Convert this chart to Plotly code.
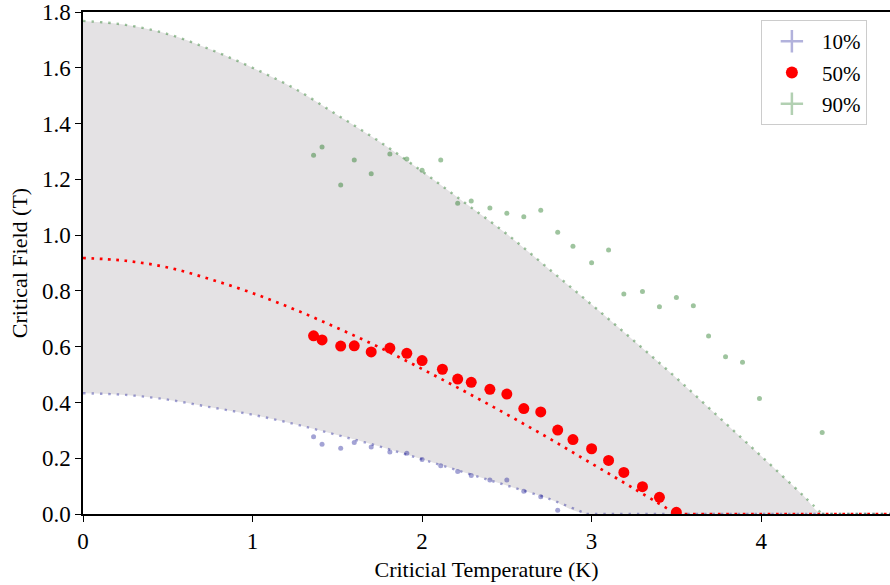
import plotly.graph_objects as go

# ---------------- data ----------------
# measured points (temperature in K, field in T)
T10 = [1.36, 1.41, 1.52, 1.60, 1.70, 1.81, 1.91, 2.00, 2.11, 2.21, 2.29, 2.40, 2.50, 2.60, 2.70, 2.80]
H10 = [0.277, 0.250, 0.236, 0.256, 0.240, 0.222, 0.218, 0.195, 0.173, 0.152, 0.138, 0.122, 0.122, 0.082, 0.062, 0.013]

T50 = [1.36, 1.41, 1.52, 1.60, 1.70, 1.81, 1.91, 2.00, 2.12, 2.21, 2.29, 2.40, 2.50, 2.60, 2.70, 2.80,
       2.89, 3.00, 3.10, 3.19, 3.30, 3.40, 3.50]
H50 = [0.639, 0.624, 0.602, 0.603, 0.581, 0.595, 0.576, 0.550, 0.519, 0.484, 0.472, 0.447, 0.430, 0.378,
       0.366, 0.301, 0.267, 0.234, 0.192, 0.149, 0.098, 0.060, 0.006]

T90 = [1.36, 1.41, 1.52, 1.60, 1.70, 1.81, 1.91, 2.00, 2.11, 2.21, 2.29, 2.40, 2.50, 2.60, 2.70, 2.80,
       2.89, 3.00, 3.10, 3.19, 3.30, 3.40, 3.50, 3.60, 3.69, 3.79, 3.89, 3.99, 4.36]
H90 = [1.286, 1.316, 1.180, 1.269, 1.220, 1.291, 1.273, 1.233, 1.269, 1.114, 1.122, 1.097, 1.078, 1.066,
       1.089, 1.010, 0.960, 0.901, 0.947, 0.789, 0.798, 0.743, 0.776, 0.747, 0.638, 0.564, 0.544, 0.414, 0.292]

# fitted curves
Tfit10 = [0, 0.25, 0.5, 0.75, 1.0, 1.25, 1.5, 1.75, 2.0, 2.25, 2.5, 2.75, 2.97, 4.76]
Hfit10 = [0.433, 0.427, 0.410, 0.383, 0.356, 0.322, 0.283, 0.242, 0.196, 0.149, 0.102, 0.054, 0.0, 0.0]

Tfit50 = [0, 0.25, 0.5, 0.75, 1.0, 1.25, 1.5, 1.75, 2.0, 2.25, 2.5, 2.75, 3.0, 3.25, 3.5, 4.76]
Hfit50 = [0.918, 0.908, 0.884, 0.842, 0.792, 0.733, 0.667, 0.597, 0.520, 0.440, 0.357, 0.271, 0.181, 0.091, 0.0, 0.0]

Tfit90 = [0, 0.25, 0.5, 0.75, 1.0, 1.25, 1.5, 1.75, 2.0, 2.25, 2.5, 2.75, 3.0, 3.25, 3.5, 3.75, 4.0, 4.25, 4.36, 4.76]
Hfit90 = [1.768, 1.754, 1.721, 1.666, 1.600, 1.525, 1.431, 1.335, 1.229, 1.117, 1.004, 0.878, 0.751, 0.621,
          0.488, 0.348, 0.208, 0.065, 0.0, 0.0]

labels = ["10%", "50%", "90%"]
x_ticks = [0, 1, 2, 3, 4]
y_ticks = [0.0, 0.2, 0.4, 0.6, 0.8, 1.0, 1.2, 1.4, 1.6, 1.8]

# ---------------- styles ----------------
BLUE = "rgba(0,0,139,0.36)"
GREEN = "rgba(0,100,0,0.38)"
RED = "#ff0000"
FILL = "rgb(228,226,228)"
FONT = "Liberation Serif"


def split_fit(T, H):
    """curved part up to the first zero, then the flat tail"""
    k = H.index(0.0)
    return (T[:k + 1], H[:k + 1]), (T[k:], H[k:])


fig = go.Figure()

# shaded band between 10% and 90% fits
fig.add_trace(go.Scatter(x=Tfit10, y=Hfit10, mode="lines", line=dict(width=0, shape="spline", color="rgba(0,0,0,0)"),
                         showlegend=False, hoverinfo="skip"))
fig.add_trace(go.Scatter(x=Tfit90, y=Hfit90, mode="lines", fill="tonexty", fillcolor=FILL,
                         line=dict(width=0, shape="spline", color="rgba(0,0,0,0)"),
                         showlegend=False, hoverinfo="skip"))


def add_fit(T, H, color, width, dash):
    (tc, hc), (tt, ht) = split_fit(T, H)
    fig.add_trace(go.Scatter(x=tc, y=hc, mode="lines", line=dict(color=color, width=width, dash=dash, shape="spline"),
                             showlegend=False, hoverinfo="skip"))
    fig.add_trace(go.Scatter(x=tt, y=ht, mode="lines", line=dict(color=color, width=width, dash=dash),
                             showlegend=False, hoverinfo="skip"))


add_fit(Tfit10, Hfit10, BLUE, 2.4, "2.4px,6px")
add_fit(Tfit90, Hfit90, GREEN, 2.4, "2.4px,6px")

# small data points
fig.add_trace(go.Scatter(x=T10, y=H10, mode="markers", marker=dict(color=BLUE, size=5),
                         showlegend=False))
fig.add_trace(go.Scatter(x=T90, y=H90, mode="markers", marker=dict(color=GREEN, size=5),
                         showlegend=False))

# 50% fit and points
add_fit(Tfit50, Hfit50, RED, 2.7, "2.7px,5.6px")
fig.add_trace(go.Scatter(x=T50, y=H50, mode="markers", marker=dict(color=RED, size=11),
                         showlegend=False))

# legend entries (errorbar-like crosses)
fig.add_trace(go.Scatter(x=[None], y=[None], mode="markers", name=labels[0], legendgroup="a",
                         marker=dict(symbol="cross-thin", size=17, line=dict(color="rgba(0,0,139,0.3)", width=2.5))))
fig.add_trace(go.Scatter(x=[None], y=[None], mode="markers", name=labels[1], legendgroup="b",
                         marker=dict(symbol="circle", size=12, color=RED)))
fig.add_trace(go.Scatter(x=[None], y=[None], mode="markers", name=labels[2], legendgroup="c",
                         marker=dict(symbol="cross-thin", size=17, line=dict(color="rgba(0,100,0,0.3)", width=2.5))))

fig.update_layout(
    width=890, height=585,
    margin=dict(l=83, r=0, t=12, b=71),
    paper_bgcolor="white", plot_bgcolor="white",
    font=dict(family=FONT, size=21, color="black"),
    legend=dict(x=0.84, y=0.984, xanchor="left", yanchor="top",
                bgcolor="rgba(255,255,255,0.8)", bordercolor="#cccccc", borderwidth=1,
                traceorder="grouped", tracegroupgap=1, itemwidth=50,
                font=dict(family=FONT, size=21)),
    xaxis=dict(range=[0, 4.76], tickvals=x_ticks, ticktext=[str(v) for v in x_ticks],
               showgrid=False, zeroline=False, showline=True, linecolor="black", linewidth=1.5,
               mirror=True, ticks="outside", ticklen=6, tickwidth=1.2, tickcolor="black",
               tickfont=dict(size=23),
               title=dict(text="Criticial Temperature (K)", standoff=8, font=dict(size=22))),
    yaxis=dict(range=[0, 1.8], tickvals=y_ticks, ticktext=[f"{v:.1f}" for v in y_ticks],
               showgrid=False, zeroline=False, showline=True, linecolor="black", linewidth=1.5,
               ticks="outside", ticklen=6, tickwidth=1.2, tickcolor="black",
               tickfont=dict(size=23),
               title=dict(text="Critical Field (T)", standoff=8, font=dict(size=22))),
)

fig.write_html("out.html")
